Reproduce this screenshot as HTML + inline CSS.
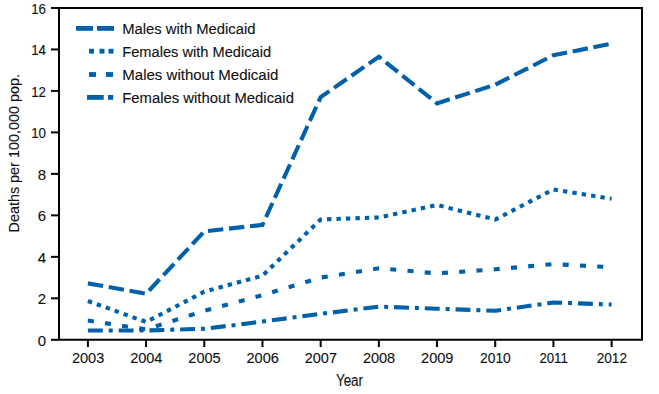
<!DOCTYPE html>
<html><head><meta charset="utf-8"><style>
html,body{margin:0;padding:0;background:#fff;}
body{width:659px;height:394px;overflow:hidden;}
svg{display:block;}
.t{font-family:"Liberation Sans",sans-serif;font-size:15px;fill:#111;stroke:#111;stroke-width:0.12px;}
</style></head><body>
<svg width="659" height="394" viewBox="0 0 659 394">
<path d="M59,8 H642 V339.8 H59 Z" fill="none" stroke="#000" stroke-width="2"/>
<line x1="51" y1="339.80" x2="59" y2="339.80" stroke="#000" stroke-width="2"/>
<text x="46" y="345.80" text-anchor="end" class="t">0</text>
<line x1="51" y1="298.32" x2="59" y2="298.32" stroke="#000" stroke-width="2"/>
<text x="46" y="304.32" text-anchor="end" class="t">2</text>
<line x1="51" y1="256.84" x2="59" y2="256.84" stroke="#000" stroke-width="2"/>
<text x="46" y="262.84" text-anchor="end" class="t">4</text>
<line x1="51" y1="215.36" x2="59" y2="215.36" stroke="#000" stroke-width="2"/>
<text x="46" y="221.36" text-anchor="end" class="t">6</text>
<line x1="51" y1="173.88" x2="59" y2="173.88" stroke="#000" stroke-width="2"/>
<text x="46" y="179.88" text-anchor="end" class="t">8</text>
<line x1="51" y1="132.40" x2="59" y2="132.40" stroke="#000" stroke-width="2"/>
<text x="46" y="138.40" text-anchor="end" class="t" textLength="14.8" lengthAdjust="spacingAndGlyphs">10</text>
<line x1="51" y1="90.92" x2="59" y2="90.92" stroke="#000" stroke-width="2"/>
<text x="46" y="96.92" text-anchor="end" class="t" textLength="14.8" lengthAdjust="spacingAndGlyphs">12</text>
<line x1="51" y1="49.44" x2="59" y2="49.44" stroke="#000" stroke-width="2"/>
<text x="46" y="55.44" text-anchor="end" class="t" textLength="14.8" lengthAdjust="spacingAndGlyphs">14</text>
<line x1="51" y1="7.96" x2="59" y2="7.96" stroke="#000" stroke-width="2"/>
<text x="46" y="13.96" text-anchor="end" class="t" textLength="14.8" lengthAdjust="spacingAndGlyphs">16</text>
<line x1="87.90" y1="339.8" x2="87.90" y2="347" stroke="#000" stroke-width="2"/>
<text x="88.10" y="363" text-anchor="middle" class="t" textLength="32.33" lengthAdjust="spacingAndGlyphs">2003</text>
<line x1="146.09" y1="339.8" x2="146.09" y2="347" stroke="#000" stroke-width="2"/>
<text x="146.29" y="363" text-anchor="middle" class="t" textLength="32.33" lengthAdjust="spacingAndGlyphs">2004</text>
<line x1="204.28" y1="339.8" x2="204.28" y2="347" stroke="#000" stroke-width="2"/>
<text x="204.48" y="363" text-anchor="middle" class="t" textLength="32.33" lengthAdjust="spacingAndGlyphs">2005</text>
<line x1="262.47" y1="339.8" x2="262.47" y2="347" stroke="#000" stroke-width="2"/>
<text x="262.67" y="363" text-anchor="middle" class="t" textLength="32.33" lengthAdjust="spacingAndGlyphs">2006</text>
<line x1="320.66" y1="339.8" x2="320.66" y2="347" stroke="#000" stroke-width="2"/>
<text x="320.86" y="363" text-anchor="middle" class="t" textLength="32.33" lengthAdjust="spacingAndGlyphs">2007</text>
<line x1="378.85" y1="339.8" x2="378.85" y2="347" stroke="#000" stroke-width="2"/>
<text x="379.05" y="363" text-anchor="middle" class="t" textLength="32.33" lengthAdjust="spacingAndGlyphs">2008</text>
<line x1="437.04" y1="339.8" x2="437.04" y2="347" stroke="#000" stroke-width="2"/>
<text x="437.24" y="363" text-anchor="middle" class="t" textLength="32.33" lengthAdjust="spacingAndGlyphs">2009</text>
<line x1="495.23" y1="339.8" x2="495.23" y2="347" stroke="#000" stroke-width="2"/>
<text x="495.43" y="363" text-anchor="middle" class="t" textLength="30.77" lengthAdjust="spacingAndGlyphs">2010</text>
<line x1="553.42" y1="339.8" x2="553.42" y2="347" stroke="#000" stroke-width="2"/>
<text x="553.62" y="363" text-anchor="middle" class="t" textLength="28.44" lengthAdjust="spacingAndGlyphs">2011</text>
<line x1="611.61" y1="339.8" x2="611.61" y2="347" stroke="#000" stroke-width="2"/>
<text x="611.81" y="363" text-anchor="middle" class="t" textLength="30.35" lengthAdjust="spacingAndGlyphs">2012</text>
<text x="349.5" y="386" text-anchor="middle" class="t" style="font-size:16px" textLength="27.2" lengthAdjust="spacingAndGlyphs">Year</text>
<text transform="translate(19.3,232) rotate(-90)" x="-0.5" y="0" class="t" style="font-size:15.5px" textLength="158.4" lengthAdjust="spacingAndGlyphs">Deaths per 100,000 pop.</text>
<path d="M87.90,283.39 L146.09,293.76 L204.28,231.33 L262.47,224.90 L320.66,97.14 L378.85,56.70 L437.04,103.36 L495.23,84.70 L553.42,55.25 L611.61,43.63" fill="none" stroke="#0060a9" stroke-width="4.1" stroke-dasharray="15.45 5.71" stroke-dashoffset="0" stroke-linejoin="miter"/>
<path d="M87.90,301.02 L146.09,321.96 L204.28,291.68 L262.47,275.71 L320.66,219.51 L378.85,217.43 L437.04,204.99 L495.23,219.51 L553.42,189.44 L611.61,198.77" fill="none" stroke="#0060a9" stroke-width="4.1" stroke-dasharray="4.4 5.083" stroke-dashoffset="0" stroke-linejoin="miter"/>
<path d="M87.90,320.51 L146.09,329.43 L204.28,310.76 L262.47,295.21 L320.66,277.58 L378.85,268.25 L437.04,273.43 L495.23,269.28 L553.42,264.10 L611.61,267.21" fill="none" stroke="#0060a9" stroke-width="4.1" stroke-dasharray="6 11.3" stroke-dashoffset="0" stroke-linejoin="miter"/>
<path d="M87.90,330.47 L146.09,330.47 L204.28,328.81 L262.47,321.55 L320.66,313.88 L378.85,306.62 L437.04,308.69 L495.23,310.76 L553.42,302.47 L611.61,304.54" fill="none" stroke="#0060a9" stroke-width="4.1" stroke-dasharray="14.9 5.93 4 5.93" stroke-dashoffset="0" stroke-linejoin="miter"/>
<rect x="76" y="26.00" width="17.00" height="4.8" fill="#0060a9"/>
<rect x="97" y="26.00" width="17.00" height="4.8" fill="#0060a9"/>
<text x="122.3" y="33.80" class="t" style="font-size:15.5px" textLength="133.1" lengthAdjust="spacingAndGlyphs">Males with Medicaid</text>
<rect x="89" y="48.80" width="5.00" height="4.8" fill="#0060a9"/>
<rect x="99.5" y="48.80" width="5.00" height="4.8" fill="#0060a9"/>
<rect x="108.5" y="48.80" width="5.00" height="4.8" fill="#0060a9"/>
<text x="122.3" y="56.60" class="t" style="font-size:15.5px" textLength="148.8" lengthAdjust="spacingAndGlyphs">Females with Medicaid</text>
<rect x="89" y="72.10" width="7.00" height="4.8" fill="#0060a9"/>
<rect x="106" y="72.10" width="7.00" height="4.8" fill="#0060a9"/>
<text x="122.3" y="79.90" class="t" style="font-size:15.5px" textLength="156.1" lengthAdjust="spacingAndGlyphs">Males without Medicaid</text>
<rect x="87" y="95.00" width="16.70" height="4.8" fill="#0060a9"/>
<rect x="108" y="95.00" width="5.20" height="4.8" fill="#0060a9"/>
<text x="122.3" y="102.80" class="t" style="font-size:15.5px" textLength="171.6" lengthAdjust="spacingAndGlyphs">Females without Medicaid</text>
</svg></body></html>
